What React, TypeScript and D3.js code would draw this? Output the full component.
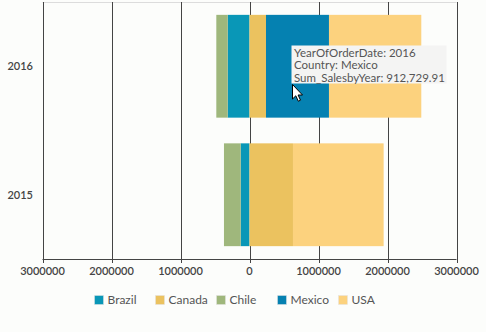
import React from "react";
import * as d3 from "d3";

const years = ["2016", "2015"];
const countries = ["Brazil", "Canada", "Chile", "Mexico", "USA"];
const colors = ["#0997b7", "#ebc25f", "#9fb77c", "#0581b1", "#fcd27e"];
const brazil = [-316000, -128000];
const canada = [239000, 630000];
const chile = [-165000, -242000];
const mexico = [912729.91, 0];
const usa = [1338000, 1314000];
const xTicks = [-3000000, -2000000, -1000000, 0, 1000000, 2000000, 3000000];
const tooltipLines = ["YearOfOrderDate: 2016", "Country: Mexico", "Sum_SalesbyYear: 912,729.91"];

const W = 486, H = 332;
const FONT = "Lato, 'Source Sans Pro', 'Open Sans', sans-serif";

export default function App() {
  const seriesVals = [brazil, canada, chile, mexico, usa];
  const rows = years.map((y, i) => {
    const r: any = { year: y };
    countries.forEach((c, k) => (r[c] = seriesVals[k][i]));
    return r;
  });
  const stack = d3.stack<any>().keys(countries).offset(d3.stackOffsetDiverging);
  const layers = stack(rows);

  const x = d3.scaleLinear().domain([-3000000, 3000000]).range([42.5, 456.5]);
  const y = d3.scaleBand().domain(years).range([2, 259]).paddingInner(0.2).paddingOuter(0.1);
  const tooltipX = 291.5, tooltipY = 45.5;

  const legendX = [94.5, 155.5, 216.5, 277.5, 338.5];

  return (
    <svg width={W} height={H} style={{ position: "fixed", left: 0, top: 0, fontFamily: FONT }}>
      <rect x={0} y={0} width={W} height={H} fill="#fcfdfb" />
      <line x1={42.5} x2={456.5} y1={2.5} y2={2.5} stroke="#dcdcdc" strokeWidth={1} />
      {xTicks.map((t) => (
        <g key={t}>
          <line x1={Math.round(x(t)) + 0.5} x2={Math.round(x(t)) + 0.5} y1={2} y2={263} stroke="#444" strokeWidth={1} />
          <text x={x(t)} y={275} textAnchor="middle" fontSize={11} fill="#444" fontWeight={600}>
            {Math.abs(t)}
          </text>
        </g>
      ))}
      <line x1={42.5} x2={456.5} y1={259.5} y2={259.5} stroke="#444" strokeWidth={1} />
      {layers.map((layer, k) => (
        <g key={layer.key} fill={colors[k]}>
          {layer.map((d, i) => {
            const x0 = x(Math.min(d[0], d[1]));
            const x1 = x(Math.max(d[0], d[1]));
            if (x1 - x0 <= 0) return null;
            return (
              <rect key={i} x={x0} y={y(years[i])!} width={x1 - x0} height={y.bandwidth()} />
            );
          })}
        </g>
      ))}
      {years.map((yr) => (
        <text key={yr} x={33} y={y(yr)! + y.bandwidth() / 2 + 4} textAnchor="end" fontSize={11} fill="#444" fontWeight={600}>
          {yr}
        </text>
      ))}
      {countries.map((c, k) => (
        <g key={c} transform={`translate(${legendX[k]},295.5)`}>
          <rect x={0} y={0} width={9} height={9} fill={colors[k]} stroke="#e4e4e4" strokeWidth={0.5} />
          <text x={13} y={8.8} fontSize={12} fill="#555">{c}</text>
        </g>
      ))}
      <rect x={tooltipX} y={tooltipY} width={155} height={38} fill="#f4f4f3" />
      {tooltipLines.map((l, i) => (
        <text key={i} x={294} y={56.5 + i * 12.5} fontSize={11.5} fill="#555">{l}</text>
      ))}
      <path
        d="M292.5,84.5 L292.5,99 L295.8,95.8 L298.3,101.2 L300.5,100.2 L298.1,95 L302.5,95 Z"
        fill="#fff"
        stroke="#000"
        strokeWidth={1}
        strokeLinejoin="round"
      />
    </svg>
  );
}
